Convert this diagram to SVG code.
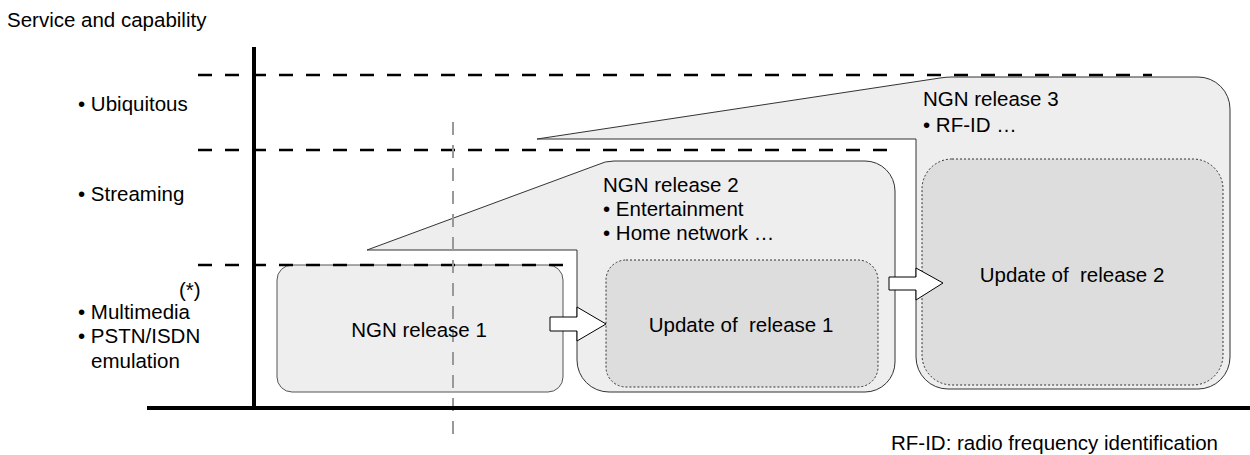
<svg xmlns="http://www.w3.org/2000/svg" width="1250" height="455" viewBox="0 0 1250 455">
  <style>
    text { font-family: "Liberation Sans", Arial, sans-serif; font-size: 20.5px; fill: #000; }
    .outer { fill: #eeeeee; stroke: #333; stroke-width: 1; }
    .inner { fill: #dddddd; stroke: #333; stroke-width: 1; stroke-dasharray: 2 2; }
    .level { stroke: #000; stroke-width: 2.5; stroke-dasharray: 14 13; fill: none; }
    .marker { stroke: #999; stroke-width: 2; stroke-dasharray: 13 10; fill: none; }
    .axis { stroke: #000; stroke-width: 4; fill: none; }
    .step { fill: #fff; stroke: #000; stroke-width: 1; }
    .mid { text-anchor: middle; }
  </style>
  <rect width="1250" height="455" fill="#fff"/>

  <!-- Release 3: flag-shaped outline with the dotted update area inside -->
  <g id="release3">
    <path class="outer" d="M537,139 L916,139 L916,357 A32,32 0 0 0 948,389 L1198,389 A32,32 0 0 0 1230,357 L1230,109 A32,32 0 0 0 1198,77 L952,77 Q946,77 940,78 Z"/>
    <rect class="inner" x="922" y="159" width="301" height="226" rx="30"/>
    <text x="923" y="106">NGN release 3</text>
    <text x="923" y="132">• RF-ID …</text>
    <text class="mid" x="1072" y="282" xml:space="preserve">Update of  release 2</text>
  </g>

  <!-- Release 2 -->
  <g id="release2">
    <path class="outer" d="M367,250 L577,250 L577,360 A32,32 0 0 0 609,392 L865,392 A30,30 0 0 0 895,362 L895,191 A30,30 0 0 0 865,161 L614,161 Q605,161 597,165 Z"/>
    <rect class="inner" x="606" y="260" width="272" height="127" rx="20"/>
    <text x="603" y="192">NGN release 2</text>
    <text x="603" y="216">• Entertainment</text>
    <text x="603" y="240">• Home network …</text>
    <text class="mid" x="741" y="332" xml:space="preserve">Update of  release 1</text>
  </g>

  <!-- Release 1 -->
  <g id="release1">
    <rect x="277" y="265" width="286" height="127" rx="15" fill="#eeeeee" stroke="#555" stroke-width="1"/>
  </g>

  <!-- Transitions between releases -->
  <g id="connectors">
    <polygon class="step" points="550,317 577,317 577,307 606,324 577,341 577,331 550,331"/>
    <polygon class="step" points="889,277 916,277 916,268 943,283 916,300 916,290 889,290"/>
  </g>

  <!-- Capability levels -->
  <g id="levels">
    <line class="level" x1="198" y1="75" x2="1152" y2="75"/>
    <line class="level" x1="198" y1="150" x2="888" y2="150"/>
    <line class="level" x1="198" y1="265" x2="563" y2="265"/>
  </g>

  <!-- Time marker -->
  <line class="marker" x1="453" y1="122" x2="453" y2="436"/>

  <g id="release1-label">
    <text class="mid" x="419" y="337">NGN release 1</text>
  </g>

  <!-- Axes -->
  <g id="axes">
    <line class="axis" x1="254" y1="47" x2="254" y2="409"/>
    <line class="axis" x1="147" y1="408" x2="1250" y2="408"/>
  </g>

  <!-- Axis and level labels -->
  <g id="labels">
    <text x="7" y="27">Service and capability</text>
    <text x="78" y="111">• Ubiquitous</text>
    <text x="78" y="201">• Streaming</text>
    <text x="179" y="297">(*)</text>
    <text x="78" y="319">• Multimedia</text>
    <text x="78" y="343">• PSTN/ISDN</text>
    <text x="91" y="368">emulation</text>
    <text x="1218" y="450" text-anchor="end">RF-ID: radio frequency identification</text>
  </g>
</svg>
